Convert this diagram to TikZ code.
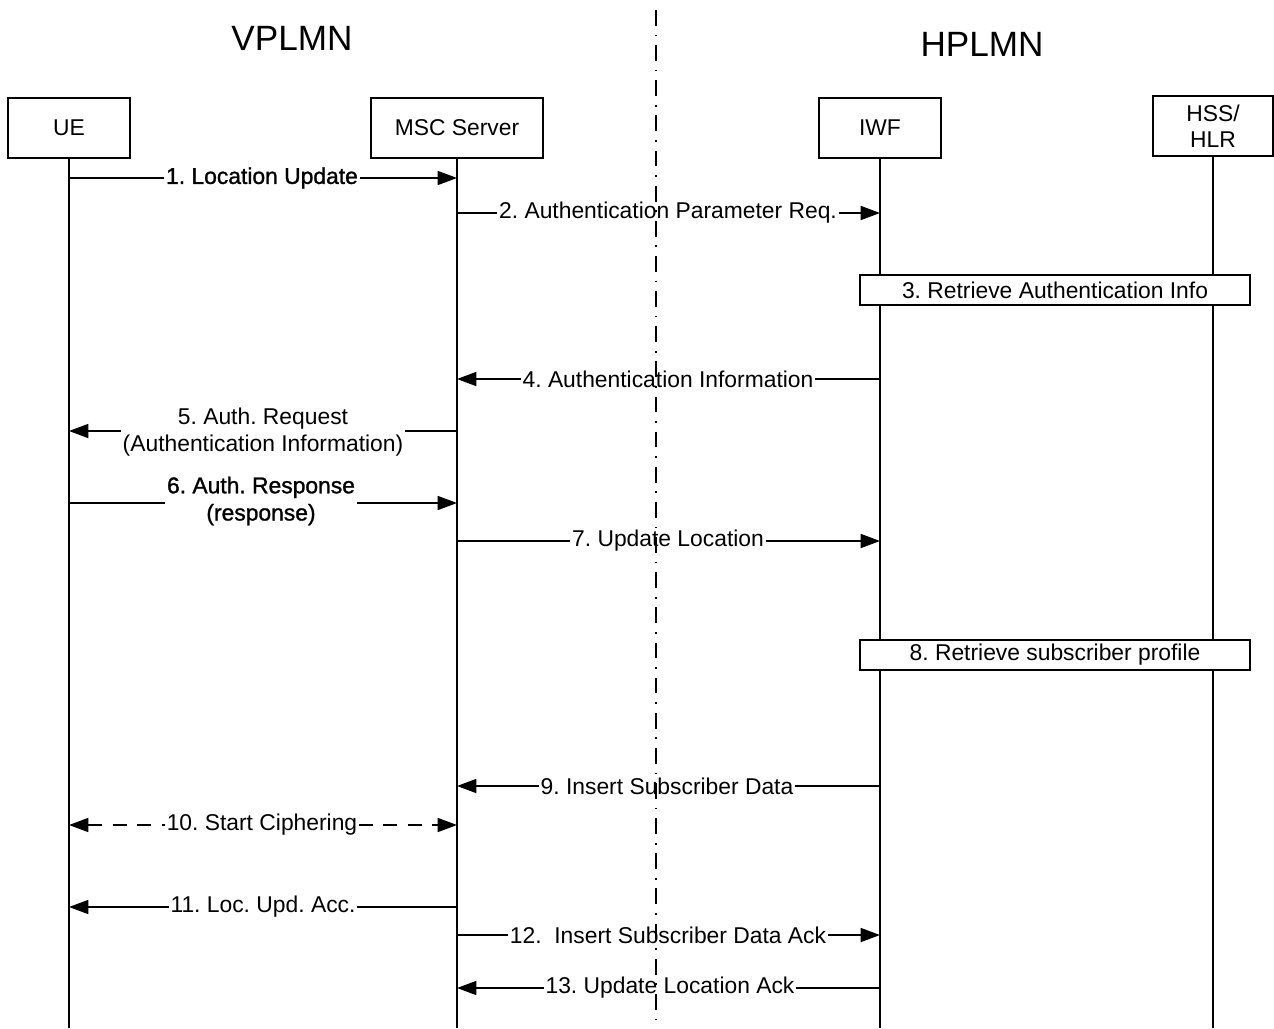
\documentclass[tikz,border=0pt]{standalone}
\usepackage{fontspec}
\setmainfont{Liberation Sans}
\newfontfamily\heavyfont[FakeBold=1.2]{Liberation Sans}
\usetikzlibrary{arrows.meta,positioning}
\frenchspacing

\tikzset{
  entity/.style={draw, line width=0.8pt, fill=white, minimum height=1.2cm, align=center, font=\fontsize{13}{15}\selectfont},
  lifeline/.style={line width=0.8pt},
  msg/.style={line width=0.8pt, -{Triangle[length=11pt,width=8pt]}},
  dmsg/.style={line width=0.8pt, dash pattern=on 8pt off 6pt, {Triangle[length=11pt,width=8pt]}-{Triangle[length=11pt,width=8pt]}},
  lbl/.style={fill=white, inner sep=1pt, align=center, font=\fontsize{13}{15.5}\selectfont},
  procbox/.style={draw, line width=0.8pt, fill=white, minimum width=7.8cm, minimum height=0.6cm, inner sep=0pt, font=\fontsize{13}{14}\selectfont},
  plmn/.style={font=\fontsize{20}{24}\selectfont},
}

\begin{document}
\begin{tikzpicture}[x=0.02cm, y=-0.02cm]
\useasboundingbox (0,0) rectangle (1274,1028);

%Networks
\node[plmn] (vplmn) at (292,38) {VPLMN};
\node[plmn] (hplmn) at (982,44) {HPLMN};
\coordinate (bordertop) at (656,10);
\coordinate (borderbot) at (656,1028);

%Entities
\node[entity, minimum width=2.44cm] (ue) at (69,128) {UE};
\node[entity, minimum width=3.44cm] (msc) at (457,128) {MSC Server};
\node[entity, minimum width=2.44cm] (iwf) at (880,128) {IWF};
\node[entity, minimum width=2.4cm] (hss) at (1213,126) {HSS/\\HLR};

\coordinate (bottom) at (0,1028);
\draw [lifeline] (ue) -- (ue |- bottom);
\draw [lifeline] (msc) -- (msc |- bottom);
\draw [lifeline] (iwf) -- (iwf |- bottom);
\draw [lifeline] (hss) -- (hss |- bottom);

%Levels
\coordinate (y1) at (0,178);
\coordinate (y2) at (0,213);
\coordinate (y4) at (0,379);
\coordinate (y5) at (0,431);
\coordinate (y6) at (0,503);
\coordinate (y7) at (0,541);
\coordinate (y9) at (0,786);
\coordinate (y10) at (0,825);
\coordinate (y11) at (0,907);
\coordinate (y12) at (0,935);
\coordinate (y13) at (0,988);

%Step 1
\draw [msg] (ue |- y1) -- (msc |- y1);
\node[lbl, font=\heavyfont\fontsize{13}{15.5}\selectfont] (m1) at (262,178) {1. Location Update};

%Step 2
\draw [msg] (msc |- y2) -- (iwf |- y2);
\node[lbl] (m2) at (668,213) {2. Authentication Parameter Req.};

%Step 3
\node[procbox] (p3) at (1055,290) {3. Retrieve Authentication Info};

%Step 4
\draw [msg] (iwf |- y4) -- (msc |- y4);
\node[lbl] (m4) at (668,379) {4. Authentication Information};

%Step 5
\draw [msg] (msc |- y5) -- (ue |- y5);
\node[lbl] (m5) at (263,432) {5. Auth. Request\\(Authentication Information)};

%Step 6
\draw [msg] (ue |- y6) -- (msc |- y6);
\node[lbl, font=\heavyfont\fontsize{13}{15.5}\selectfont] (m6) at (261,501) {6. Auth. Response\\(response)};

%Step 7
\draw [msg] (msc |- y7) -- (iwf |- y7);
\node[lbl] (m7) at (668,541) {7. Update Location};

%Step 8
\node[procbox] (p8) at (1055,655) {8. Retrieve subscriber profile};

%Step 9
\draw [msg] (iwf |- y9) -- (msc |- y9);
\node[lbl] (m9) at (667,786) {9. Insert Subscriber Data};

%Step 10
\draw [dmsg] (ue |- y10) -- (msc |- y10);
\node[lbl] (m10) at (262,825) {10. Start Ciphering};

%Step 11
\draw [msg] (msc |- y11) -- (ue |- y11);
\node[lbl] (m11) at (263,907) {11. Loc. Upd. Acc.};

%Step 12
\draw [msg] (msc |- y12) -- (iwf |- y12);
\node[lbl] (m12) at (668,935) {12.\ \ Insert Subscriber Data Ack};

%Step 13
\draw [msg] (iwf |- y13) -- (msc |- y13);
\node[lbl] (m13) at (670,988) {13. Update Location Ack};

%Border on top
\draw [line width=1.5pt, dash pattern=on 9pt off 5pt on 1pt off 5pt] (bordertop) -- (borderbot);
\end{tikzpicture}
\end{document}
